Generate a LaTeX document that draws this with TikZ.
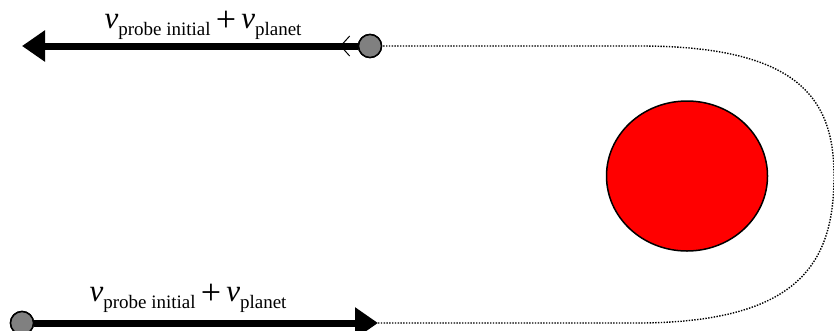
\documentclass[tikz,border=0pt]{standalone}
\usepackage{amsmath}
\usepackage{fontspec}
\setmainfont{Liberation Serif}
\usepackage{tikz}
\usetikzlibrary{arrows.meta,shapes.geometric}

\newcommand{\vsum}{{\itshape v}\raisebox{-7pt}{\fontsize{19}{20}\selectfont probe initial}\,\raisebox{-3pt}{\fontsize{36}{36}\selectfont +}\,{\itshape v}\raisebox{-7pt}{\fontsize{19}{20}\selectfont planet}}

\begin{document}
\begin{tikzpicture}[
  x=1pt,y=-1pt,
  probe/.style={draw,circle,fill=gray,line width=1.5pt,minimum size=23pt,inner sep=0pt},
  planet/.style={draw,ellipse,fill=red,line width=1.5pt,minimum width=161pt,minimum height=150pt,inner sep=0pt},
  velocity/.style={line width=7pt,-{Triangle[length=23pt,width=30pt]}},
  orbit/.style={line width=1.4pt,dash pattern=on 1.4pt off 1.4pt},
  vlabel/.style={font=\fontsize{31}{32}\selectfont,inner sep=0pt}
]
\useasboundingbox (0,0) rectangle (834,330);
\node[planet] (planet) at (687,176) {};
\node[probe] (pin) at (22,323) {};
\node[probe] (pout) at (370,46) {};
\coordinate (inend) at (378,323);
\coordinate (outend) at (22,46);
\coordinate (turn) at (340,46);

\draw[orbit] (inend) -- (640,323) .. controls (800,322) and (834,262) .. (834,176)
  .. controls (834,100) and (800,46) .. (640,46) -- (pout.east);
\draw[velocity] (pin) -- (inend);
\draw[velocity] (pout) -- (outend);
\draw[line width=1pt,-{Straight Barb[length=9pt,width=20pt]}] (pout.west) -- (turn);
\node[probe] at (pout) {};
\node[probe] at (pin) {};

\node[vlabel] (outlabel) at (203,25) {\vsum};
\node[vlabel] (inlabel) at (188,298) {\vsum};
\end{tikzpicture}
\end{document}
